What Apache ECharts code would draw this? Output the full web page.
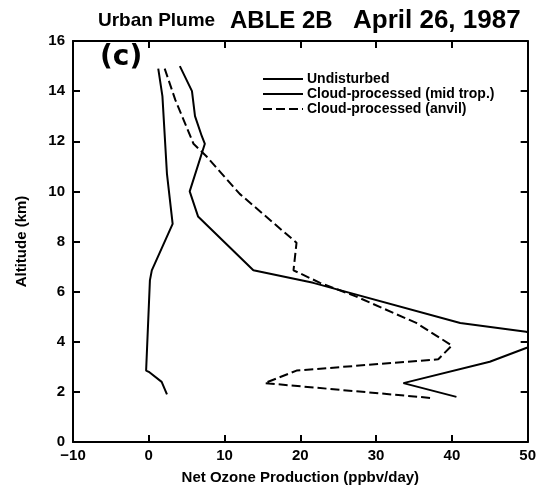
<!DOCTYPE html>
<html lang="en">
  <head>
    <meta charset="UTF-8" />
    <title>Urban Plume ABLE 2B</title>
    <script src="https://cdn.jsdelivr.net/npm/echarts@6/dist/echarts.min.js"></script>
  </head>
  <body style="margin: 0; background: #fff">
    <div id="main" style="width: 539px; height: 495px"></div>
    <script type="text/javascript">
      // values: [net ozone production, altitude km]
      const seriesNames = [
        "Undisturbed",
        "Cloud-processed (mid trop.)",
        "Cloud-processed (anvil)",
      ];
      const undisturbed = [
        [1.25, 14.9], [1.8, 13.8], [2.4, 10.7], [3.0, 9.1], [3.15, 8.7],
        [0.4, 6.85], [0.15, 6.45], [-0.35, 2.85], [0.0, 2.8], [1.7, 2.4],
        [2.4, 1.9],
      ];
      const midTrop = [
        [4.1, 15.0], [5.7, 14.0], [6.1, 13.0], [7.0, 12.2], [7.4, 11.9],
        [5.4, 10.0], [6.5, 9.0], [13.8, 6.85], [21.7, 6.35], [41.1, 4.75],
        [49.8, 4.4], [53, 4.05], [49.8, 3.75], [45.0, 3.2], [33.6, 2.35],
        [40.6, 1.8],
      ];
      const anvil = [
        [2.1, 14.9], [3.5, 13.65], [5.9, 11.9], [7.6, 11.4], [12.0, 9.9],
        [19.5, 7.95], [19.1, 6.85], [22.6, 6.35], [27.4, 5.8], [35.3, 4.75],
        [40.0, 3.85], [38.2, 3.3], [19.5, 2.85], [15.3, 2.35], [37.5, 1.75],
      ];
      const xTicks = [-10, 0, 10, 20, 30, 40, 50];
      const yTicks = [0, 2, 4, 6, 8, 10, 12, 14, 16];

      const font = "Liberation Sans";
      const axisLine = { show: true, onZero: false, lineStyle: { color: "#000", width: 2 } };
      const tick = { show: true, inside: true, length: 7, lineStyle: { color: "#000", width: 2 } };

      let myChart = echarts.init(document.getElementById("main"));
      let options = {
        animation: false,
        title: {
          text: "{s|Urban Plume}{a|ABLE 2B}{b|April 26, 1987}",
          left: 93,
          top: 3,
          textStyle: {
            rich: {
              s: { fontFamily: font, fontWeight: "bold", fontSize: 19, color: "#000", width: 132 },
              a: { fontFamily: font, fontWeight: "bold", fontSize: 24, color: "#000", width: 123 },
              b: { fontFamily: font, fontWeight: "bold", fontSize: 26, color: "#000" },
            },
          },
        },
        legend: {
          orient: "vertical",
          left: 257,
          top: 67,
          itemWidth: 40,
          itemHeight: 12,
          itemGap: 1,
          itemStyle: { opacity: 0, borderWidth: 0 },
          textStyle: { fontFamily: font, fontWeight: "bold", fontSize: 14, color: "#000", padding: [0, 0, 0, -1] },
          data: seriesNames,
        },
        grid: { left: 73, right: 11, top: 41, bottom: 53 },
        graphic: [
          {
            type: "text",
            left: 100,
            top: 44,
            style: { text: "(c)", fontFamily: "DejaVu Sans", fontWeight: "bold", fontSize: 28, fill: "#000" },
          },
        ],
        xAxis: [
          {
            type: "value",
            min: xTicks[0],
            max: xTicks[xTicks.length - 1],
            interval: 10,
            name: "Net Ozone Production (ppbv/day)",
            nameLocation: "middle",
            nameGap: 28,
            nameTextStyle: { fontFamily: font, fontWeight: "bold", fontSize: 15, color: "#000" },
            axisLine: axisLine,
            axisTick: tick,
            splitLine: { show: false },
            axisLabel: {
              fontFamily: font, fontWeight: "bold", fontSize: 15, color: "#000", margin: 6,
              formatter: (v) => String(v).replace("-", "\u2212"),
            },
          },
          {
            type: "value",
            position: "top",
            min: xTicks[0],
            max: xTicks[xTicks.length - 1],
            interval: 10,
            axisLine: axisLine,
            axisTick: tick,
            axisLabel: { show: false },
            splitLine: { show: false },
          },
        ],
        yAxis: [
          {
            type: "value",
            min: yTicks[0],
            max: yTicks[yTicks.length - 1],
            interval: 2,
            name: "Altitude (km)",
            nameLocation: "middle",
            nameGap: 44,
            nameTextStyle: { fontFamily: font, fontWeight: "bold", fontSize: 15, color: "#000" },
            axisLine: axisLine,
            axisTick: tick,
            splitLine: { show: false },
            axisLabel: { fontFamily: font, fontWeight: "bold", fontSize: 15, color: "#000", margin: 8 },
          },
          {
            type: "value",
            position: "right",
            min: yTicks[0],
            max: yTicks[yTicks.length - 1],
            interval: 2,
            axisLine: axisLine,
            axisTick: tick,
            axisLabel: { show: false },
            splitLine: { show: false },
          },
        ],
        series: [
          {
            name: seriesNames[0],
            type: "line",
            data: undisturbed,
            symbol: "none",
            clip: true,
            lineStyle: { color: "#000", width: 2 },
            itemStyle: { color: "#000" },
          },
          {
            name: seriesNames[1],
            type: "line",
            data: midTrop,
            symbol: "none",
            clip: true,
            lineStyle: { color: "#000", width: 2 },
            itemStyle: { color: "#000" },
          },
          {
            name: seriesNames[2],
            type: "line",
            data: anvil,
            symbol: "none",
            clip: true,
            lineStyle: { color: "#000", width: 2, type: [9, 4] },
            itemStyle: { color: "#000" },
          },
        ],
      };
      myChart.setOption(options);
    </script>
  </body>
</html>
